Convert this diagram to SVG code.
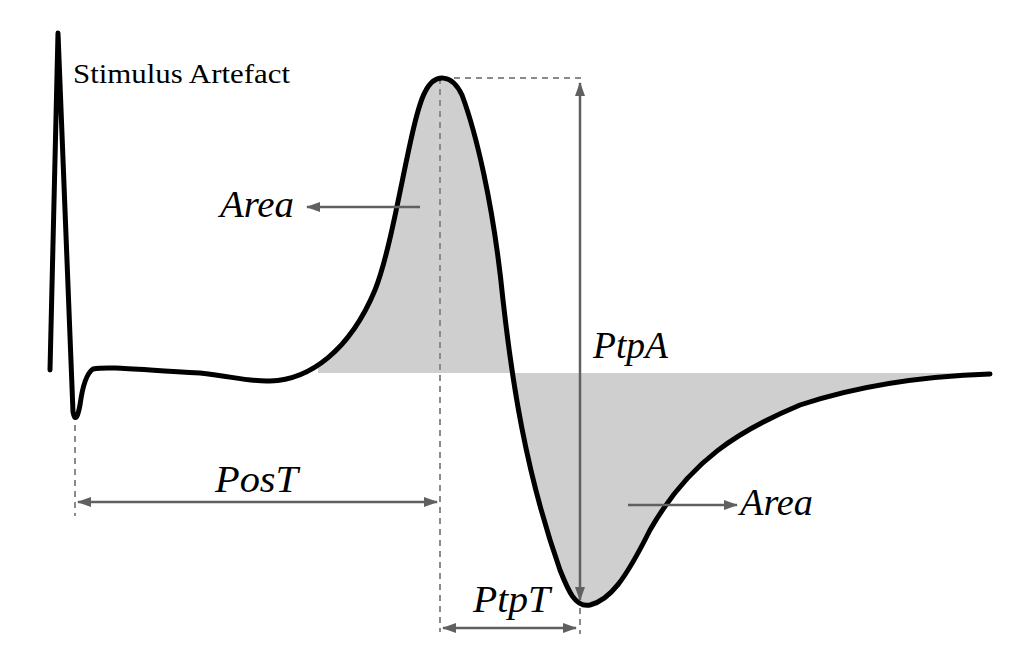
<svg xmlns="http://www.w3.org/2000/svg" width="1024" height="670" viewBox="0 0 1024 670">
<style>
.curve{fill:none;stroke:#000;stroke-width:5;stroke-linejoin:round;stroke-linecap:round}
.area{fill:#cfcfcf;stroke:none}
.dash{fill:none;stroke:#8a8a8a;stroke-width:2;stroke-dasharray:6,5}
.arr{fill:none;stroke:#606060;stroke-width:2.5}
.t{font-family:"Liberation Serif","Times New Roman",serif;fill:#000}
.it{font-size:37px;font-style:italic}
</style>
<defs>
<marker id="ah" viewBox="0 0 14 10" refX="13" refY="5" markerWidth="14" markerHeight="10" markerUnits="userSpaceOnUse" orient="auto-start-reverse">
<path d="M0,0 L14,5 L0,10 Z" fill="#606060"/>
</marker>
<clipPath id="fc"><rect x="318" y="0" width="706" height="670"/></clipPath>
</defs>
<g id="fill">
<path class="area" clip-path="url(#fc)" d="M270,381 C310,380 350,350 375,290 C395,240 410,120 425,92 C435,72 452,74 462,95 C475,130 493,200 503,300 C512,380 525,470 560,570 C568,590 575,608 590,605 C610,600 625,580 650,530 C690,460 740,430 800,405 C860,385 930,376 990,374 L990,373 L270,373 Z" fill-rule="evenodd"/>
</g>
<g id="guides">
<line class="dash" x1="440" y1="78" x2="440" y2="632"/>
<line class="dash" x1="443" y1="78" x2="582" y2="78"/>
<line class="dash" x1="75" y1="425" x2="75" y2="516"/>
<line class="dash" x1="580" y1="608" x2="580" y2="634"/>
</g>
<g id="signal">
<path class="curve" d="M50,370 L58,33 L73,412 Q76,426 80,405 Q84,375 93,369 C110,366 140,370 200,373 C230,376 250,382 270,381 C310,380 350,350 375,290 C395,240 410,120 425,92 C435,72 452,74 462,95 C475,130 493,200 503,300 C512,380 525,470 560,570 C568,590 575,608 590,605 C610,600 625,580 650,530 C690,460 740,430 800,405 C860,385 930,376 990,374"/>
</g>
<g id="connectors">
<line class="arr" x1="580" y1="600" x2="580" y2="83" marker-start="url(#ah)" marker-end="url(#ah)"/>
<line class="arr" x1="78" y1="502" x2="437" y2="502" marker-start="url(#ah)" marker-end="url(#ah)"/>
<line class="arr" x1="443" y1="628" x2="576" y2="628" marker-start="url(#ah)" marker-end="url(#ah)"/>
<line class="arr" x1="420" y1="207" x2="307" y2="207" marker-end="url(#ah)"/>
<line class="arr" x1="628" y1="505" x2="737" y2="505" marker-end="url(#ah)"/>
</g>
<g id="labels">
<text class="t" font-size="28" x="73" y="83" textLength="217" lengthAdjust="spacingAndGlyphs">Stimulus Artefact</text>
<text class="t it" x="220" y="217" textLength="74" lengthAdjust="spacingAndGlyphs">Area</text>
<text class="t it" x="740" y="515" textLength="73" lengthAdjust="spacingAndGlyphs">Area</text>
<text class="t it" x="593" y="358" textLength="75" lengthAdjust="spacingAndGlyphs">PtpA</text>
<text class="t it" x="215" y="492" textLength="83" lengthAdjust="spacingAndGlyphs">PosT</text>
<text class="t it" x="473" y="612" textLength="77" lengthAdjust="spacingAndGlyphs">PtpT</text>
</g>
</svg>
